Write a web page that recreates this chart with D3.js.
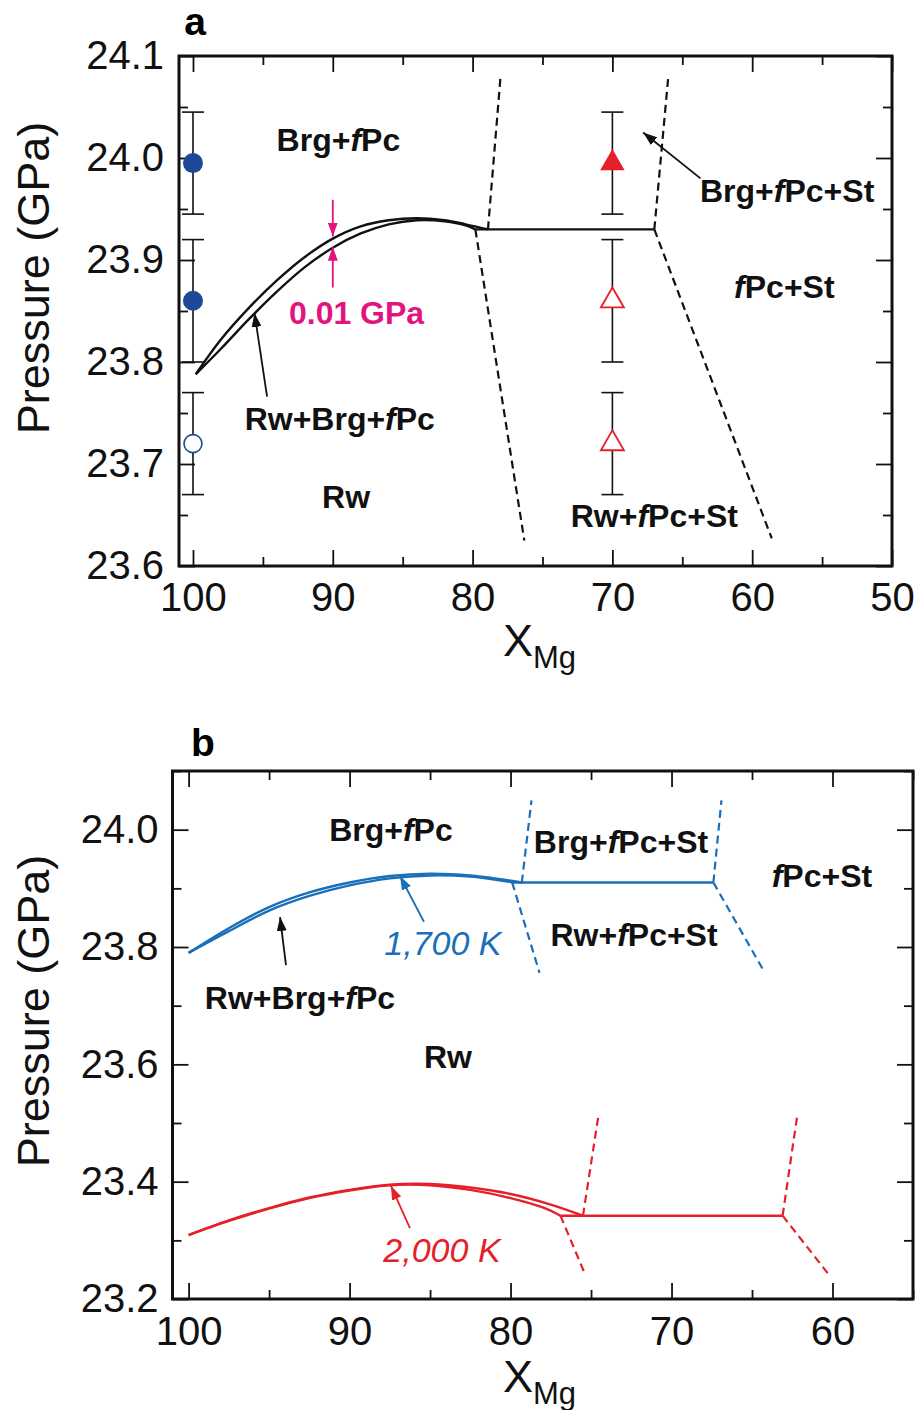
<!DOCTYPE html>
<html>
<head>
<meta charset="utf-8">
<script src="https://cdn.jsdelivr.net/npm/d3@7"></script>
<style>
  body { margin: 0; background: #fff; }
  text { font-family: "Liberation Sans", Arial, Helvetica, sans-serif; }
</style>
</head>
<body>
<svg id="fig" width="918" height="1410"></svg>
<script>
// ---------- data: panel a ----------
const aXMajor = [100, 90, 80, 70, 60, 50];
const aXMinor = [95, 85, 75, 65, 55];
const aYMajor = [23.6, 23.7, 23.8, 23.9, 24.0, 24.1];
const aYMinor = [23.65, 23.75, 23.85, 23.95, 24.05];

// experimental runs (X_Mg, pressure, error)
const obsX = [100, 100, 100, 70, 70, 70];
const obsP = [23.995, 23.86, 23.72, 23.995, 23.86, 23.72];
const obsErr = [0.05, 0.06, 0.05, 0.05, 0.06, 0.05];
const obsShape = ["circle", "circle", "circle", "triangle", "triangle", "triangle"];
const obsFilled = [true, true, false, true, false, false];

// Rw+Brg+fPc loop boundaries at the experiment temperature
const aUpper = [[99.8, 23.788], [98, 23.822], [96, 23.853], [94, 23.880], [92, 23.903],
  [90, 23.921], [88, 23.933], [86, 23.939], [84, 23.941], [82, 23.939], [80.5, 23.935], [78.9, 23.93]];
const aLower = [[99.8, 23.788], [98, 23.813], [96, 23.842], [94, 23.869], [92, 23.893],
  [90, 23.912], [88, 23.926], [86, 23.935], [84, 23.939], [82, 23.938], [80.5, 23.934], [79.8, 23.93]];
const aFlat = [[79.8, 23.93], [67.0, 23.93]];
const aDashed = [
  [[78.9, 23.93], [78.0, 24.08]],
  [[79.8, 23.93], [76.3, 23.625]],
  [[67.0, 23.93], [66.0, 24.08]],
  [[67.0, 23.93], [58.6, 23.627]]
];

// ---------- data: panel b ----------
const bXMajor = [100, 90, 80, 70, 60];
const bXMinor = [95, 85, 75, 65, 55];
const bYMajor = [23.2, 23.4, 23.6, 23.8, 24.0];
const bYMinor = [23.3, 23.5, 23.7, 23.9, 24.1];

// 1,700 K
const blueUpper = [[100, 23.79], [97.5, 23.832], [95, 23.868], [92.5, 23.893], [90, 23.910],
  [87.5, 23.921], [85, 23.925], [82.5, 23.922], [80.5, 23.915], [79.3, 23.91]];
const blueLower = [[100, 23.79], [97.5, 23.827], [95, 23.862], [92.5, 23.887], [90, 23.905],
  [87.5, 23.917], [85, 23.922], [82.5, 23.920], [80.5, 23.913], [79.9, 23.91]];
const blueFlat = [[79.9, 23.91], [67.4, 23.91]];
const blueDashed = [
  [[79.3, 23.91], [78.7, 24.05]],
  [[79.9, 23.91], [78.2, 23.756]],
  [[67.4, 23.91], [66.9, 24.05]],
  [[67.4, 23.91], [64.2, 23.756]]
];

// 2,000 K
const redUpper = [[100, 23.309], [97.5, 23.334], [95, 23.355], [92.5, 23.373], [90, 23.386],
  [87.5, 23.395], [85, 23.396], [82.5, 23.390], [80, 23.379], [77.5, 23.361], [75.5, 23.342]];
const redLower = [[100, 23.309], [97.5, 23.333], [95, 23.354], [92.5, 23.372], [90, 23.385],
  [87.5, 23.394], [85, 23.394], [82.5, 23.386], [80, 23.372], [78, 23.356], [76.9, 23.342]];
const redFlat = [[76.9, 23.342], [63.1, 23.342]];
const redDashed = [
  [[75.5, 23.342], [74.55, 23.511]],
  [[76.9, 23.342], [75.4, 23.244]],
  [[63.1, 23.342], [62.2, 23.511]],
  [[63.1, 23.342], [60.3, 23.244]]
];

// ---------- labels ----------
const aLabels = [
  ["Brg+fPc", 89.6, 24.018], ["Rw+Brg+fPc", 89.5, 23.744], ["Rw", 89.05, 23.668],
  ["Brg+fPc+St", 57.5, 23.968], ["fPc+St", 57.7, 23.874], ["Rw+fPc+St", 67.0, 23.649]
];
const bLabels = [
  ["Brg+fPc", 87.43, 23.999], ["Brg+fPc+St", 73.14, 23.979], ["fPc+St", 60.66, 23.921],
  ["Rw+fPc+St", 72.33, 23.820], ["Rw+Brg+fPc", 93.08, 23.713], ["Rw", 83.89, 23.612]
];

const BLACK = "#111";
const BLUE = "#1a6fba";
const RED = "#e5202a";
const NAVY = "#1c4897";
const MAGENTA = "#e2147e";

const svg = d3.select("#fig");
svg.append("rect").attr("width", 918).attr("height", 1410).attr("fill", "#fff");

// arrowheads
const defs = svg.append("defs");
[["k", BLACK], ["b", BLUE], ["r", RED], ["m", MAGENTA]].forEach(([id, c]) => {
  defs.append("marker")
    .attr("id", "arr-" + id)
    .attr("markerUnits", "userSpaceOnUse")
    .attr("markerWidth", 14).attr("markerHeight", 10)
    .attr("refX", 14).attr("refY", 5)
    .attr("orient", "auto")
    .append("path").attr("d", "M0,0 L14,5 L0,10 z").attr("fill", c);
});

// ---------- helpers ----------
function drawAxes(g, x, y, xMajor, xMinor, yMajor, yMinor, yFmt, xPad, yPad) {
  const [xl, xr] = x.range();
  const [yb, yt] = y.range();
  const clean = (s) => s.call((a) => a.select(".domain").remove());
  const style = (s, fs) => s.attr("font-size", fs).attr("font-family", null)
    .call((a) => a.selectAll("line").attr("stroke", BLACK).attr("stroke-width", 1.8))
    .call((a) => a.selectAll("text").attr("fill", BLACK));

  g.append("g").attr("transform", `translate(0,${yb})`)
    .call(d3.axisBottom(x).tickValues(xMajor).tickSize(-16).tickPadding(xPad).tickFormat(d3.format("d")))
    .call(clean).call((s) => style(s, 40));
  g.append("g").attr("transform", `translate(0,${yb})`)
    .call(d3.axisBottom(x).tickValues(xMinor).tickSize(-9).tickFormat(""))
    .call(clean).call((s) => style(s, 10));
  g.append("g").attr("transform", `translate(0,${yt})`)
    .call(d3.axisTop(x).tickValues(xMajor).tickSize(-16).tickFormat(""))
    .call(clean).call((s) => style(s, 10));
  g.append("g").attr("transform", `translate(0,${yt})`)
    .call(d3.axisTop(x).tickValues(xMinor).tickSize(-9).tickFormat(""))
    .call(clean).call((s) => style(s, 10));
  g.append("g").attr("transform", `translate(${xl},0)`)
    .call(d3.axisLeft(y).tickValues(yMajor).tickSize(-16).tickPadding(yPad).tickFormat(yFmt))
    .call(clean).call((s) => style(s, 40));
  g.append("g").attr("transform", `translate(${xl},0)`)
    .call(d3.axisLeft(y).tickValues(yMinor).tickSize(-9).tickFormat(""))
    .call(clean).call((s) => style(s, 10));
  g.append("g").attr("transform", `translate(${xr},0)`)
    .call(d3.axisRight(y).tickValues(yMajor).tickSize(-16).tickFormat(""))
    .call(clean).call((s) => style(s, 10));
  g.append("g").attr("transform", `translate(${xr},0)`)
    .call(d3.axisRight(y).tickValues(yMinor).tickSize(-9).tickFormat(""))
    .call(clean).call((s) => style(s, 10));

  g.append("rect")
    .attr("x", xl).attr("y", yt)
    .attr("width", xr - xl).attr("height", yb - yt)
    .attr("fill", "none").attr("stroke", BLACK).attr("stroke-width", 3);
}

// text with the "f" of fPc set in italic
function phaseLabel(g, txt, px, py, size, color) {
  const t = g.append("text")
    .attr("x", px).attr("y", py).attr("dy", "0.35em")
    .attr("text-anchor", "middle")
    .attr("font-size", size).attr("font-weight", "bold")
    .attr("fill", color || BLACK);
  txt.split(/(f)/).filter((s) => s.length).forEach((part) => {
    t.append("tspan").text(part).attr("font-style", part === "f" ? "italic" : null);
  });
  return t;
}

function axisTitles(g, yx, yy, xx, xy) {
  g.append("text")
    .attr("transform", `translate(${yx},${yy}) rotate(-90)`)
    .attr("text-anchor", "middle").attr("dy", "0.35em")
    .attr("font-size", 45).attr("fill", BLACK)
    .text("Pressure (GPa)");
  const t = g.append("text").attr("x", xx).attr("y", xy)
    .attr("font-size", 45).attr("fill", BLACK);
  t.append("tspan").text("X");
  t.append("tspan").text("Mg").attr("font-size", 31).attr("dy", 12);
}

function arrow(g, x, y, p0, p1, color, id, width) {
  g.append("line")
    .attr("x1", x(p0[0])).attr("y1", y(p0[1]))
    .attr("x2", x(p1[0])).attr("y2", y(p1[1]))
    .attr("stroke", color).attr("stroke-width", width || 1.8)
    .attr("marker-end", `url(#arr-${id})`);
}

// ================= panel a =================
const xA = d3.scaleLinear().domain([101, 50]).range([179, 892]);
const yA = d3.scaleLinear().domain([23.6, 24.1]).range([566, 56]);
const gA = svg.append("g");
const lineA = d3.line().x((d) => xA(d[0])).y((d) => yA(d[1])).curve(d3.curveCatmullRom);

drawAxes(gA, xA, yA, aXMajor, aXMinor, aYMajor, aYMinor, d3.format(".1f"), 17, 15);
axisTitles(gA, 33, 278, 503, 656);
gA.append("text").attr("x", 195).attr("y", 35).attr("text-anchor", "middle")
  .attr("font-size", 39).attr("font-weight", "bold").text("a");

[aUpper, aLower].forEach((c) => {
  gA.append("path").attr("d", lineA(c)).attr("fill", "none")
    .attr("stroke", BLACK).attr("stroke-width", 2.4);
});
gA.append("path").attr("d", lineA(aFlat)).attr("fill", "none")
  .attr("stroke", BLACK).attr("stroke-width", 2.4);
aDashed.forEach((seg) => {
  gA.append("path").attr("d", lineA(seg)).attr("fill", "none")
    .attr("stroke", BLACK).attr("stroke-width", 2.2).attr("stroke-dasharray", "8,5");
});

// error bars and symbols
obsX.forEach((xv, i) => {
  const cx = xA(xv);
  const top = yA(obsP[i] + obsErr[i]);
  const bot = yA(obsP[i] - obsErr[i]);
  gA.append("line").attr("x1", cx).attr("x2", cx).attr("y1", top).attr("y2", bot)
    .attr("stroke", BLACK).attr("stroke-width", 1.6);
  [top, bot].forEach((yy) => {
    gA.append("line").attr("x1", cx - 11).attr("x2", cx + 11).attr("y1", yy).attr("y2", yy)
      .attr("stroke", BLACK).attr("stroke-width", 1.6);
  });
});
obsX.forEach((xv, i) => {
  const cx = xA(xv), cy = yA(obsP[i]);
  const col = obsShape[i] === "circle" ? NAVY : RED;
  if (obsShape[i] === "circle") {
    gA.append("circle").attr("cx", cx).attr("cy", cy)
      .attr("r", obsFilled[i] ? 10 : 9)
      .attr("fill", obsFilled[i] ? col : "#fff")
      .attr("stroke", obsFilled[i] ? "none" : col).attr("stroke-width", 1.6);
  } else {
    gA.append("path")
      .attr("d", d3.symbol(d3.symbolTriangle, obsFilled[i] ? 260 : 230)())
      .attr("transform", `translate(${cx},${cy})`)
      .attr("fill", obsFilled[i] ? col : "#fff")
      .attr("stroke", obsFilled[i] ? "none" : col).attr("stroke-width", 1.8);
  }
});

aLabels.forEach(([t, xv, pv]) => phaseLabel(gA, t, xA(xv), yA(pv), 32));
phaseLabel(gA, "0.01 GPa", xA(88.3), yA(23.848), 32, MAGENTA);

// pink gap arrows
arrow(gA, xA, yA, [90, 23.959], [90, 23.923], MAGENTA, "m", 1.8);
arrow(gA, xA, yA, [90, 23.873], [90, 23.913], MAGENTA, "m", 1.8);
// callouts
arrow(gA, xA, yA, [94.7, 23.766], [95.6, 23.848], BLACK, "k");
arrow(gA, xA, yA, [63.7, 23.980], [67.8, 24.025], BLACK, "k");

// ================= panel b =================
const xB = d3.scaleLinear().domain([101, 55]).range([172.5, 913]);
const yB = d3.scaleLinear().domain([23.2, 24.1]).range([1299, 771]);
const gB = svg.append("g");
const lineB = d3.line().x((d) => xB(d[0])).y((d) => yB(d[1])).curve(d3.curveCatmullRom);

drawAxes(gB, xB, yB, bXMajor, bXMinor, bYMajor, bYMinor, d3.format(".1f"), 18, 14);
axisTitles(gB, 33, 1011, 503, 1392);
gB.append("text").attr("x", 203).attr("y", 756).attr("text-anchor", "middle")
  .attr("font-size", 39).attr("font-weight", "bold").text("b");

[[blueUpper, blueLower, blueFlat, blueDashed, BLUE], [redUpper, redLower, redFlat, redDashed, RED]]
  .forEach(([up, lo, flat, dashes, col]) => {
    [up, lo, flat].forEach((c) => {
      gB.append("path").attr("d", lineB(c)).attr("fill", "none")
        .attr("stroke", col).attr("stroke-width", 2.4);
    });
    dashes.forEach((seg) => {
      gB.append("path").attr("d", lineB(seg)).attr("fill", "none")
        .attr("stroke", col).attr("stroke-width", 2.2).attr("stroke-dasharray", "8,5");
    });
  });

bLabels.forEach(([t, xv, pv]) => phaseLabel(gB, t, xB(xv), yB(pv), 32));

gB.append("text").attr("x", xB(84.2)).attr("y", yB(23.807)).attr("dy", "0.35em")
  .attr("text-anchor", "middle").attr("font-size", 34).attr("font-style", "italic")
  .attr("fill", BLUE).text("1,700 K");
gB.append("text").attr("x", xB(84.26)).attr("y", yB(23.284)).attr("dy", "0.35em")
  .attr("text-anchor", "middle").attr("font-size", 34).attr("font-style", "italic")
  .attr("fill", RED).text("2,000 K");

arrow(gB, xB, yB, [85.38, 23.843], [86.87, 23.921], BLUE, "b");
arrow(gB, xB, yB, [93.95, 23.769], [94.32, 23.851], BLACK, "k");
arrow(gB, xB, yB, [86.25, 23.321], [87.43, 23.393], RED, "r");
</script>
</body>
</html>
